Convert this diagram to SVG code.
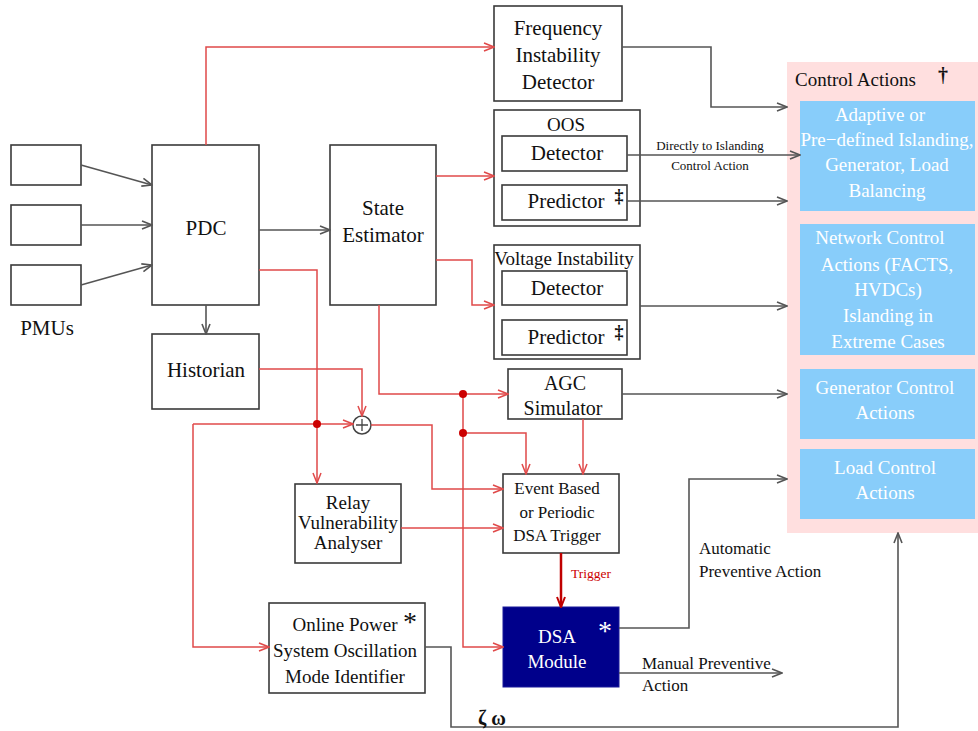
<svg xmlns="http://www.w3.org/2000/svg" width="978" height="731" viewBox="0 0 978 731">
<style>
.box{fill:#fff;stroke:#3a3a3a;stroke-width:1.6}
.t{font-family:"Liberation Serif","Times New Roman",serif;fill:#111;text-anchor:middle}
.tl{font-family:"Liberation Serif","Times New Roman",serif;fill:#111}
.w{font-family:"Liberation Serif","Times New Roman",serif;fill:#fff;text-anchor:middle}
.g{fill:none;stroke:#555;stroke-width:1.6}
.r{fill:none;stroke:#e04a4a;stroke-width:1.5}
.blue{fill:#88cdfa}
</style>
<defs>
<marker id="ag" viewBox="0 0 12 10" refX="11" refY="5" markerWidth="12" markerHeight="10" markerUnits="userSpaceOnUse" orient="auto"><path d="M1,1 L11,5 L1,9" fill="none" stroke="#555" stroke-width="1.6"/></marker>
<marker id="ar" viewBox="0 0 12 10" refX="11" refY="5" markerWidth="12" markerHeight="10" markerUnits="userSpaceOnUse" orient="auto"><path d="M1,1 L11,5 L1,9" fill="none" stroke="#e04a4a" stroke-width="1.5"/></marker>
<marker id="ad" viewBox="0 0 12 10" refX="11" refY="5" markerWidth="12" markerHeight="10" markerUnits="userSpaceOnUse" orient="auto"><path d="M1,1 L11,5 L1,9" fill="none" stroke="#c00000" stroke-width="2"/></marker>
</defs>
<rect width="978" height="731" fill="#fff"/>

<g id="control-actions">
<rect x="787" y="62" width="191" height="471" fill="#ffdfdf"/>
<text class="tl" x="795" y="86" font-size="19">Control Actions</text>
<text class="t" x="943" y="82" font-size="20" font-weight="bold">†</text>
<rect class="blue" x="800" y="101" width="175" height="110"/>
<text class="w" font-size="19"><tspan x="880" y="121">Adaptive or</tspan><tspan x="887" y="146">Pre−defined Islanding,</tspan><tspan x="887" y="171">Generator, Load</tspan><tspan x="887" y="197">Balancing</tspan></text>
<rect class="blue" x="800" y="224" width="175" height="131"/>
<text class="w" font-size="19"><tspan x="880" y="244">Network Control</tspan><tspan x="887" y="271">Actions (FACTS,</tspan><tspan x="888" y="296">HVDCs)</tspan><tspan x="888" y="322">Islanding in</tspan><tspan x="888" y="348">Extreme Cases</tspan></text>
<rect class="blue" x="800" y="369" width="175" height="70"/>
<text class="w" font-size="19"><tspan x="885" y="394">Generator Control</tspan><tspan x="885" y="419">Actions</tspan></text>
<rect class="blue" x="800" y="449" width="175" height="70"/>
<text class="w" font-size="19"><tspan x="885" y="474">Load Control</tspan><tspan x="885" y="499">Actions</tspan></text>
</g>

<g id="pmu1"><rect class="box" x="11" y="145" width="70" height="40"/></g>
<g id="pmu2"><rect class="box" x="11" y="205" width="70" height="40"/></g>
<g id="pmu3"><rect class="box" x="11" y="265" width="70" height="40"/></g>
<g id="pmus-label"><text class="t" x="47" y="335" font-size="21">PMUs</text></g>

<g id="pdc"><rect class="box" x="152" y="145" width="107" height="160"/><text class="t" x="206" y="235" font-size="21">PDC</text></g>
<g id="historian"><rect class="box" x="152" y="334" width="107" height="75"/><text class="t" x="206" y="377" font-size="21">Historian</text></g>
<g id="state-estimator"><rect class="box" x="330" y="145" width="106" height="160"/><text class="t" font-size="21"><tspan x="383" y="215">State</tspan><tspan x="383" y="242">Estimator</tspan></text></g>

<g id="freq"><rect class="box" x="494" y="6" width="128" height="95"/><text class="t" font-size="21"><tspan x="558" y="35">Frequency</tspan><tspan x="558" y="62">Instability</tspan><tspan x="558" y="89">Detector</tspan></text></g>

<g id="oos"><rect class="box" x="494" y="110" width="146" height="116"/><text class="t" x="566" y="131" font-size="19">OOS</text>
<rect class="box" x="502" y="136" width="125" height="35"/><text class="t" x="567" y="160" font-size="21">Detector</text>
<rect class="box" x="502" y="185" width="125" height="35"/><text class="t" x="566" y="208" font-size="21">Predictor</text>
<text class="t" x="619" y="202" font-size="18" font-weight="bold">‡</text></g>

<g id="voltage"><rect class="box" x="494" y="245" width="146" height="114"/><text class="t" x="564" y="265" font-size="19">Voltage Instability</text>
<rect class="box" x="502" y="271" width="125" height="34"/><text class="t" x="567" y="295" font-size="21">Detector</text>
<rect class="box" x="502" y="320" width="125" height="35"/><text class="t" x="566" y="344" font-size="21">Predictor</text>
<text class="t" x="619" y="338" font-size="18" font-weight="bold">‡</text></g>

<g id="agc"><rect class="box" x="508" y="369" width="114" height="50"/><text class="t" font-size="20"><tspan x="565" y="390">AGC</tspan><tspan x="563" y="415">Simulator</tspan></text></g>

<g id="relay"><rect class="box" x="295" y="484" width="106" height="79"/><text class="t" font-size="19"><tspan x="348" y="509">Relay</tspan><tspan x="348" y="529">Vulnerability</tspan><tspan x="348" y="549">Analyser</tspan></text></g>

<g id="event"><rect class="box" x="503" y="474" width="116" height="79"/><text class="t" font-size="17"><tspan x="557" y="494">Event Based</tspan><tspan x="557" y="518">or Periodic</tspan><tspan x="557" y="541">DSA Trigger</tspan></text></g>

<g id="online"><rect class="box" x="269" y="603" width="156" height="90"/><text class="t" font-size="19"><tspan x="345" y="631">Online Power</tspan><tspan x="345" y="657">System Oscillation</tspan><tspan x="345" y="683">Mode Identifier</tspan></text>
<text class="t" x="410" y="631" font-size="28">*</text></g>

<g id="dsa"><rect x="503" y="607" width="116" height="80" fill="#00008b" stroke="#1a1a9a" stroke-width="1"/><text class="w" font-size="19"><tspan x="557" y="643">DSA</tspan><tspan x="557" y="668">Module</tspan></text>
<text class="w" x="605" y="640" font-size="28">*</text></g>

<g id="sum"><circle cx="362" cy="425" r="9" fill="#fff" stroke="#444" stroke-width="1.5"/><path d="M356,425 H368 M362,419 V431" stroke="#444" stroke-width="1.3"/></g>

<g id="connectors">
<path class="g" d="M81,165 L152,185" marker-end="url(#ag)"/>
<path class="g" d="M81,225 H152" marker-end="url(#ag)"/>
<path class="g" d="M81,285 L152,265" marker-end="url(#ag)"/>
<path class="g" d="M259,230 H330" marker-end="url(#ag)"/>
<path class="g" d="M206,305 V334" marker-end="url(#ag)"/>
<path class="g" d="M622,47 H711 V107 H787" marker-end="url(#ag)"/>
<path class="g" d="M627,155 H800" marker-end="url(#ag)"/>
<path class="g" d="M627,201 H787" marker-end="url(#ag)"/>
<path class="g" d="M640,306 H787" marker-end="url(#ag)"/>
<path class="g" d="M622,394 H787" marker-end="url(#ag)"/>
<path class="g" d="M619,628 H689 V479 H787" marker-end="url(#ag)"/>
<path class="g" d="M619,673 H782" marker-end="url(#ag)"/>
<path class="g" d="M425,647 H451 V727 H898 V533" marker-end="url(#ag)"/>

<path class="r" d="M206,145 V47 H494" marker-end="url(#ar)"/>
<path class="r" d="M436,176 H494" marker-end="url(#ar)"/>
<path class="r" d="M436,260 H472 V305 H494" marker-end="url(#ar)"/>
<path class="r" d="M379,305 V394 H508" marker-end="url(#ar)"/>
<path class="r" d="M463,394 V647 H503" marker-end="url(#ar)"/>
<path class="r" d="M463,433 H526 V474" marker-end="url(#ar)"/>
<path class="r" d="M583,419 V474" marker-end="url(#ar)"/>
<path class="r" d="M259,270 H317 V483" marker-end="url(#ar)"/>
<path class="r" d="M259,369 H362 V416" marker-end="url(#ar)"/>
<path class="r" d="M193,424 H353" marker-end="url(#ar)"/>
<path class="r" d="M193,424 V647 H269" marker-end="url(#ar)"/>
<path class="r" d="M371,425 H432 V489 H503" marker-end="url(#ar)"/>
<path class="r" d="M401,528 H503" marker-end="url(#ar)"/>
<path d="M561,553 V607" fill="none" stroke="#c00000" stroke-width="2.5" marker-end="url(#ad)"/>
<circle cx="317" cy="424" r="4" fill="#cc0000"/>
<circle cx="463" cy="394" r="4" fill="#cc0000"/>
<circle cx="463" cy="433" r="4" fill="#cc0000"/>

<text class="t" font-size="13"><tspan x="710" y="150">Directly to Islanding</tspan><tspan x="710" y="170">Control Action</tspan></text>
<text class="tl" x="571" y="578" font-size="13.5" fill="#cc0000" style="fill:#cc0000">Trigger</text>
<text class="tl" font-size="17"><tspan x="699" y="554">Automatic</tspan><tspan x="699" y="577">Preventive Action</tspan></text>
<text class="tl" font-size="17"><tspan x="642" y="669">Manual Preventive</tspan><tspan x="642" y="691">Action</tspan></text>
<text class="tl" x="478" y="725" font-size="20" font-weight="bold">ζ ω</text>
</g>
</svg>
